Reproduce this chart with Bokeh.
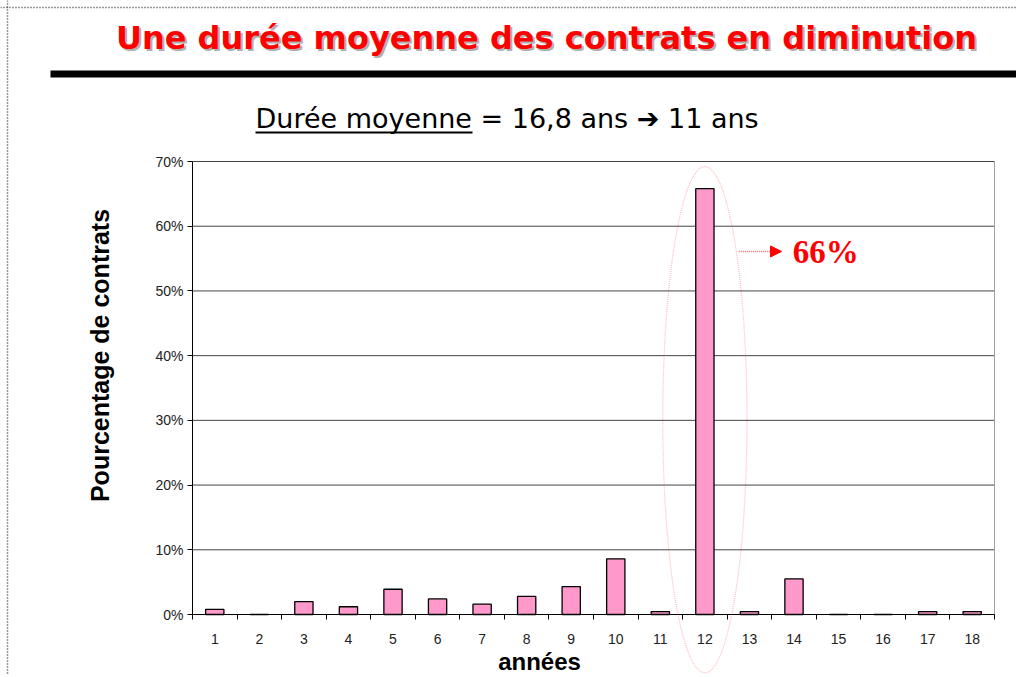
import numpy as np
from bokeh.plotting import figure
from bokeh.models import (Range1d, FixedTicker, PrintfTickFormatter, Label, Span,
                          Arrow, NormalHead, PolyAnnotation, BoxAnnotation)
from bokeh.embed import file_html
from bokeh.resources import INLINE

# ---- data ----
years = list(range(1, 19))
year_labels = [str(y) for y in years]
pct = [0.8, 0.0, 2.0, 1.2, 3.9, 2.4, 1.6, 2.8, 4.3, 8.6, 0.45, 65.8, 0.45, 5.5, 0.0, 0.0, 0.45, 0.45]
y_ticks = [0, 10, 20, 30, 40, 50, 60, 70]

title_text = "Une durée moyenne des contrats en diminution"
sub_text = "Durée moyenne = 16,8 ans \u2794 11 ans"
y_title = "Pourcentage de contrats"
x_title = "années"

# ---- layout (pixels) ----
W, H = 1016, 675
FL, FR, FT, FB = 192, 994, 161, 614          # plot area edges
x_lo, x_hi = years[0] - 0.5, years[-1] + 0.5
y_lo, y_hi = y_ticks[0], y_ticks[-1]
ppx = (FR - FL) / (x_hi - x_lo)
ppy = (FB - FT) / (y_hi - y_lo)
x_range = Range1d(x_lo - FL / ppx, x_hi + (W - FR) / ppx)
y_range = Range1d(y_lo - (H - FB) / ppy, y_hi + FT / ppy)

p = figure(width=W, height=H, output_backend="svg", toolbar_location=None,
           x_range=x_range, y_range=y_range, min_border=0)
p.min_border_left = p.min_border_right = p.min_border_top = p.min_border_bottom = 0
p.background_fill_color = "white"
p.border_fill_color = "white"
p.outline_line_color = None
p.xgrid.visible = False
p.ygrid.visible = False

# grid lines and right edge of the plot area
p.segment(x0=x_lo, x1=x_hi, y0=y_ticks[1:], y1=y_ticks[1:], line_color="#444444", line_width=1)
p.segment(x0=x_hi, x1=x_hi, y0=y_lo, y1=y_hi, line_color="#A0A0A0", line_width=1)

p.vbar(x=years, top=pct, width=0.41, fill_color="#FF99CC", line_color="black", line_width=1.3)

# axes
p.xaxis.fixed_location = y_lo
p.yaxis.fixed_location = x_lo
p.xaxis.bounds = (x_lo, x_hi)
p.yaxis.bounds = (y_lo, y_hi)
p.xaxis.ticker = FixedTicker(ticks=years, minor_ticks=[y - 0.5 for y in years] + [x_hi])
p.xaxis.major_label_overrides = {y: s for y, s in zip(years, year_labels)}
p.xaxis.major_tick_out = 0
p.xaxis.major_tick_in = 0
p.xaxis.minor_tick_out = 5
p.xaxis.minor_tick_in = 0
p.xaxis.major_label_standoff = 14
p.yaxis.ticker = FixedTicker(ticks=y_ticks)
p.yaxis.formatter = PrintfTickFormatter(format="%d%%")
p.yaxis.major_tick_out = 5
p.yaxis.major_tick_in = 0
p.yaxis.minor_tick_out = 0
p.yaxis.minor_tick_in = 0
p.yaxis.major_label_standoff = 4
for ax in (p.xaxis, p.yaxis):
    ax.axis_line_color = "black"
    ax.major_tick_line_color = "black"
    ax.minor_tick_line_color = "black"
    ax.major_label_text_font = "Liberation Sans"
    ax.major_label_text_font_size = "14px"
    ax.major_label_text_color = "#222222"

def sy(py):
    return H - py

def mid(baseline_py, size):
    # vertical middle of a text line whose baseline sits at baseline_py
    return baseline_py - 0.34 * size

# dotted page border (left and top)
p.add_layout(Span(location=7, location_units="screen", dimension="height",
                  line_color="#333333", line_dash="1 2", line_width=1.5))
p.add_layout(Span(location=sy(7), location_units="screen", dimension="width",
                  line_color="#333333", line_dash="1 2", line_width=1.5))

# title with shadow
tx, ty = 546, sy(mid(48, 32))
for dx, dy, col in ((2, -2, "#B0B0B0"), (0, 0, "#FF0000")):
    p.add_layout(Label(x=tx + dx, y=ty + dy, x_units="screen", y_units="screen", text=title_text,
                       text_font="DejaVu Sans", text_font_style="bold", text_font_size="32px",
                       text_color=col, text_align="center", text_baseline="middle"))

# thick black rule
p.add_layout(BoxAnnotation(left=50, right=W + 10, top=sy(70), bottom=sy(77),
                           left_units="screen", right_units="screen",
                           top_units="screen", bottom_units="screen",
                           fill_color="black", fill_alpha=1, line_color=None))

# subtitle with underline under "Durée moyenne"
p.add_layout(Label(x=255, y=sy(mid(127, 27)), x_units="screen", y_units="screen", text=sub_text,
                   text_font="DejaVu Sans", text_font_size="27px", text_color="black",
                   text_align="left", text_baseline="middle"))
p.add_layout(BoxAnnotation(left=255, right=472, top=sy(131), bottom=sy(133),
                           left_units="screen", right_units="screen",
                           top_units="screen", bottom_units="screen",
                           fill_color="black", fill_alpha=1, line_color=None))

# axis titles
p.add_layout(Label(x=99, y=sy(355), x_units="screen", y_units="screen", text=y_title,
                   angle=np.pi / 2, text_font="Liberation Sans", text_font_style="bold",
                   text_font_size="25px", text_color="black", text_align="center",
                   text_baseline="middle"))
p.add_layout(Label(x=539, y=sy(mid(669, 24)), x_units="screen", y_units="screen", text=x_title,
                   text_font="Liberation Sans", text_font_style="bold",
                   text_font_size="24px", text_color="black", text_align="center",
                   text_baseline="middle"))

# highlight ellipse around the peak
i_max = int(np.argmax(pct))
x_pk, v_pk = years[i_max], pct[i_max]
t = np.linspace(0, 2 * np.pi, 240)
a, b, yc = 0.945, 39.1, 30.1
p.add_layout(PolyAnnotation(xs=list(x_pk + a * np.cos(t)), ys=list(yc + b * np.sin(t)),
                            fill_alpha=0, line_color="#FF2020", line_dash="1 1", line_width=1.2))

# arrow + value label
p.add_layout(Arrow(x_start=x_pk + 0.76, y_start=56.1, x_end=x_pk + 1.72, y_end=56.1,
                   line_color="#FF6060", line_dash="1 1", line_width=1.5,
                   end=NormalHead(size=11, fill_color="red", line_color="red")))
p.add_layout(Label(x=x_pk + 1.97, y=56.0, text=f"{round(v_pk)}%",
                   text_font="Liberation Serif", text_font_style="bold", text_font_size="33px",
                   text_color="red", text_align="left", text_baseline="middle"))

open("out.html", "w").write(file_html(p, INLINE))
